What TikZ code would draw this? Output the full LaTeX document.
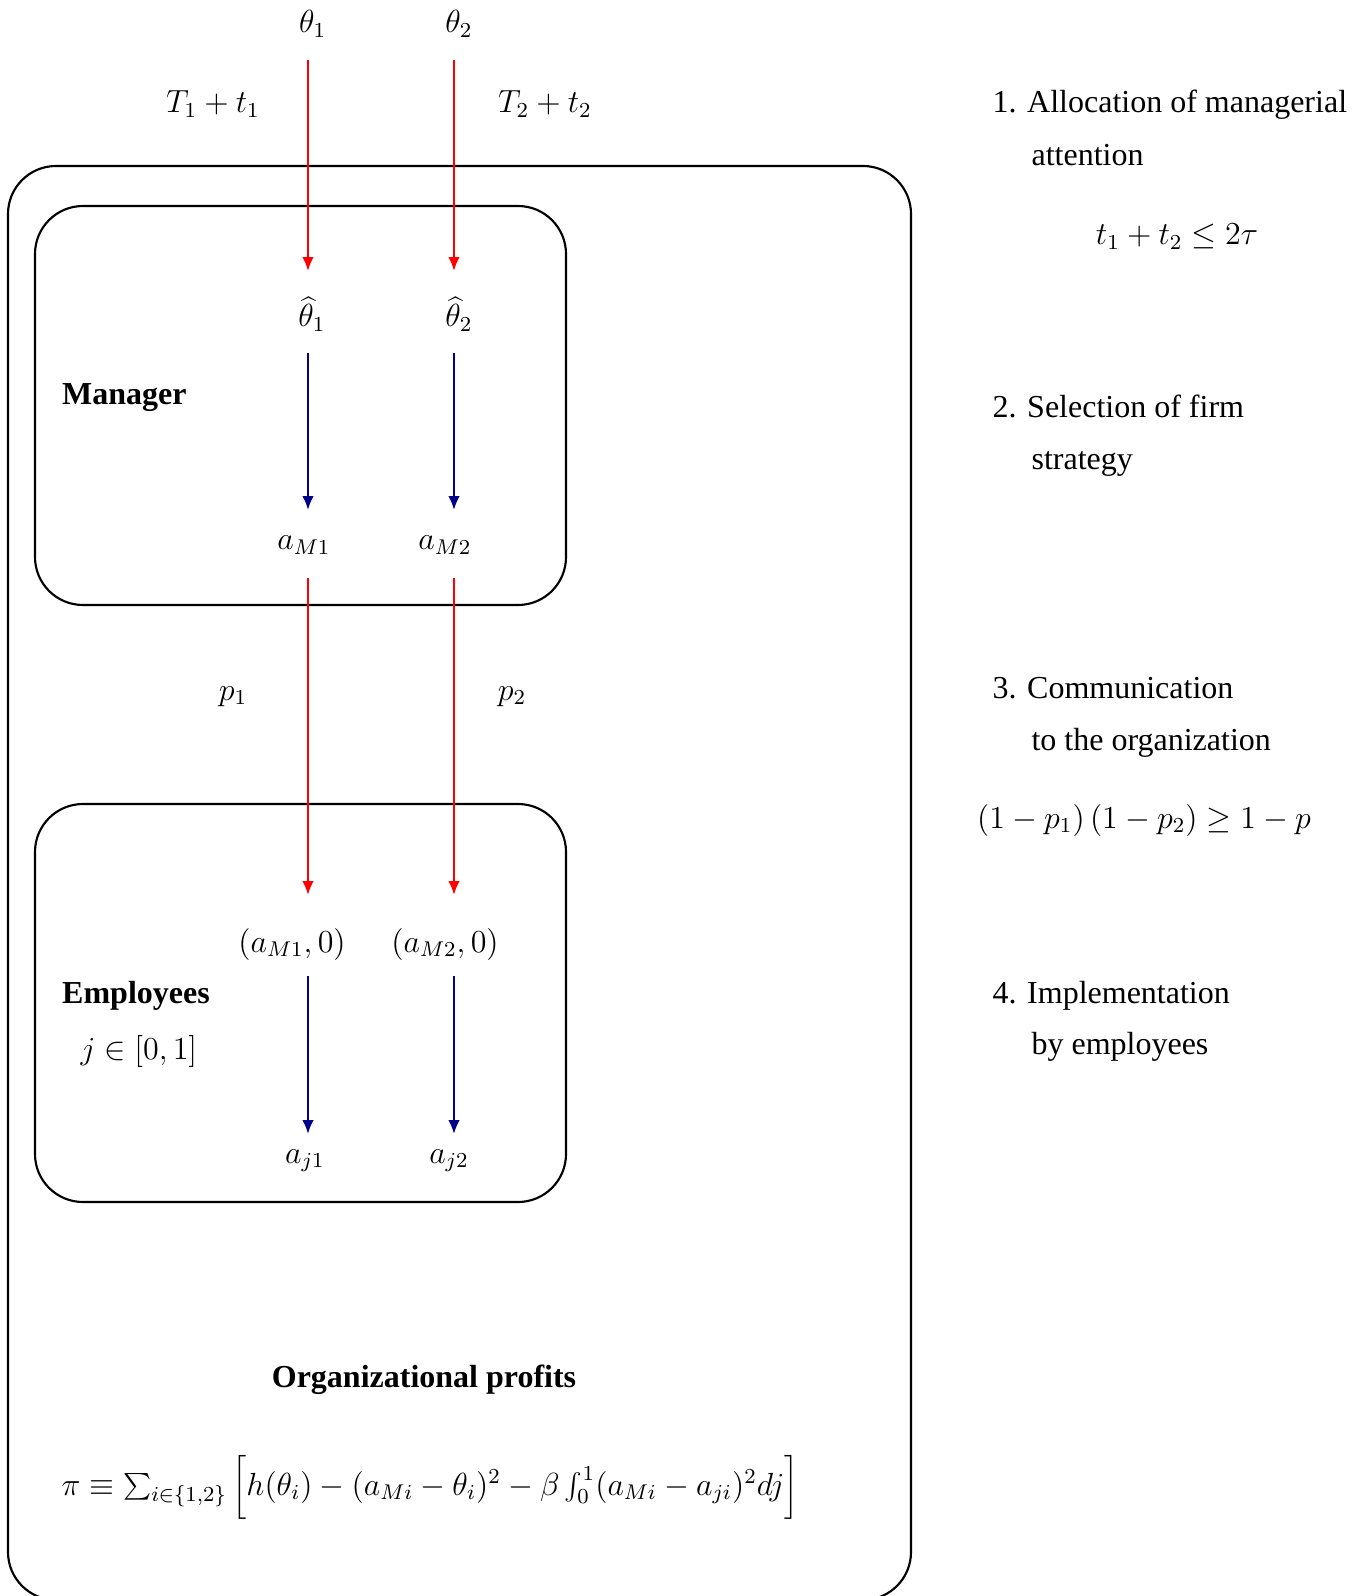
\documentclass[tikz,border=0pt]{standalone}
\usepackage[no-math]{fontspec}
\setmainfont{Liberation Serif}
\usetikzlibrary{arrows.meta}
\definecolor{arrred}{rgb}{1,0,0}
\definecolor{arrblue}{rgb}{0,0,0.55}
\begin{document}
\begin{tikzpicture}[x=0.375pt,y=-0.375pt,
  font=\fontsize{12}{14}\selectfont,
  box/.style={draw,thick,rounded corners=18pt},
  ra/.style={draw=arrred,thick,-{Latex[length=5.2pt,width=4.3pt]}},
  ba/.style={draw=arrblue,thick,-{Latex[length=5.2pt,width=4.3pt]}},
  lbl/.style={inner sep=0pt,anchor=base},
  txt/.style={inner sep=0pt,anchor=base west}]
\useasboundingbox (0,0) rectangle (1364,1596);
\clip (0,0) rectangle (1364,1596);
% boxes
\draw[box] (8,166) rectangle (911,1600);
\draw[box] (35,206) rectangle (566,605);
\draw[box] (35,804) rectangle (566,1202);
% labels
\node[lbl] (th1) at (312.7,33) {$\theta_1$};
\node[lbl] (th2) at (459,33) {$\theta_2$};
\node[lbl] (T1) at (213,113) {$T_1+t_1$};
\node[lbl] (T2) at (545,113) {$T_2+t_2$};
\node[lbl] (hth1) at (312,327) {$\widehat{\theta}_1$};
\node[lbl] (hth2) at (459,327) {$\widehat{\theta}_2$};
\node[lbl] (aM1) at (304,550) {$a_{M1}$};
\node[lbl] (aM2) at (445,550) {$a_{M2}$};
\node[lbl] (p1) at (233,700) {$p_1$};
\node[lbl] (p2) at (512,700) {$p_2$};
\node[lbl] (aMz1) at (292,952) {$(a_{M1},0)$};
\node[lbl] (aMz2) at (445,952) {$(a_{M2},0)$};
\node[lbl] (aj1) at (305,1163) {$a_{j1}$};
\node[lbl] (aj2) at (449,1163) {$a_{j2}$};
\node[txt] (mgr) at (61.7,405) {\textbf{Manager}};
\node[txt] (emp) at (61.7,1003) {\textbf{Employees}};
\node[txt] (jin) at (80,1059) {$j\in[0,1]$};
\node[lbl] (orgp) at (424,1387) {\textbf{Organizational profits}};
\node[txt] (pi) at (61,1495) {$\pi\equiv\sum_{i\in\{1,2\}}\left[\vrule height 13.5pt depth 7pt width 0pt h(\theta_i)-(a_{Mi}-\theta_i)^2-\beta\int_0^1(a_{Mi}-a_{ji})^2dj\right]$};
% right column
\node[txt] (s1) at (992,113) {1. Allocation of managerial};
\node[txt] (s1b) at (1031,166) {attention};
\node[lbl] (s1f) at (1177,245) {$t_1+t_2\leq 2\tau$};
\node[txt] (s2) at (992,418) {2. Selection of firm};
\node[txt] (s2b) at (1031,470) {strategy};
\node[txt] (s3) at (992,698) {3. Communication};
\node[txt] (s3b) at (1031,750) {to the organization};
\node[lbl] (s3f) at (1144,828) {$(1-p_1)\,(1-p_2)\geq 1-p$};
\node[txt] (s4) at (992,1003) {4. Implementation};
\node[txt] (s4b) at (1031,1054) {by employees};
% arrow end points
\coordinate (r1s) at (308,60);  \coordinate (r1e) at (308,271);
\coordinate (r2s) at (454,60);  \coordinate (r2e) at (454,271);
\coordinate (b1s) at (308,353); \coordinate (b1e) at (308,510);
\coordinate (b2s) at (454,353); \coordinate (b2e) at (454,510);
\coordinate (c1s) at (308,578); \coordinate (c1e) at (308,895);
\coordinate (c2s) at (454,578); \coordinate (c2e) at (454,895);
\coordinate (d1s) at (308,976); \coordinate (d1e) at (308,1134);
\coordinate (d2s) at (454,976); \coordinate (d2e) at (454,1134);
% arrows
\draw[ra] (r1s) -- (r1e);
\draw[ra] (r2s) -- (r2e);
\draw[ba] (b1s) -- (b1e);
\draw[ba] (b2s) -- (b2e);
\draw[ra] (c1s) -- (c1e);
\draw[ra] (c2s) -- (c2e);
\draw[ba] (d1s) -- (d1e);
\draw[ba] (d2s) -- (d2e);
\end{tikzpicture}
\end{document}
